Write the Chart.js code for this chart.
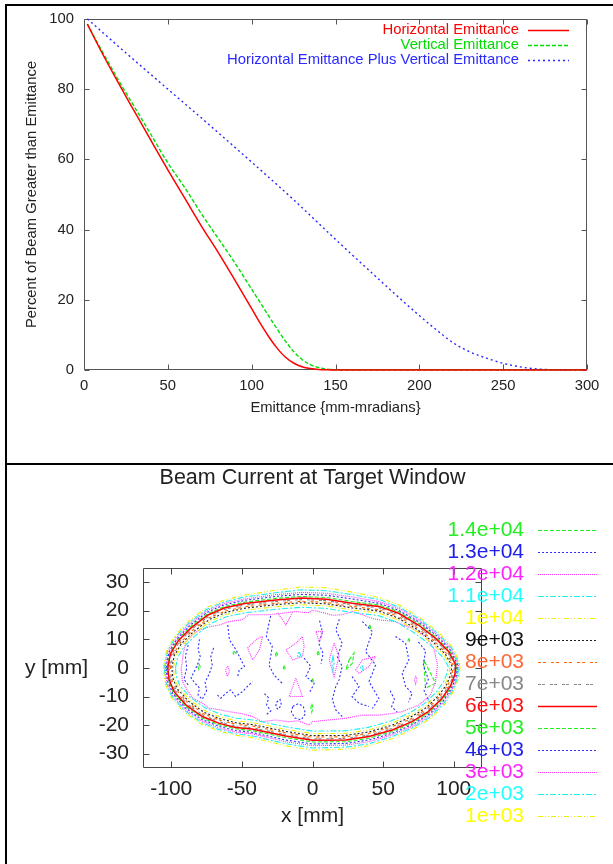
<!DOCTYPE html>
<html><head><meta charset="utf-8">
<script src="https://cdn.jsdelivr.net/npm/chart.js@4/dist/chart.umd.min.js"></script>
<style>
html,body{margin:0;padding:0;background:#fff;width:613px;height:864px;overflow:hidden;position:relative}
canvas{position:absolute;left:0}
#c1{top:0}
#c2{top:465px}
.rule{position:absolute;background:#000}
</style></head><body>
<canvas id="c1" width="613" height="463"></canvas>
<canvas id="c2" width="613" height="399"></canvas>
<div class="rule" style="left:5px;top:4px;width:608px;height:2px"></div>
<div class="rule" style="left:5px;top:4px;width:2px;height:860px"></div>
<div class="rule" style="left:5px;top:463px;width:608px;height:2px"></div>
<script>
// ---------- top chart data ----------
const emitSeriesNames = ['Horizontal Emittance', 'Vertical Emittance', 'Horizontal Emittance Plus Vertical Emittance'];
const horizX = [2, 10, 20, 30, 40, 50, 60, 70, 80, 90, 100, 105, 110, 115, 120, 125, 130, 135, 140, 145, 150, 300];
const horizY = [98.5, 91, 82.2, 73.7, 65.3, 57, 49, 41, 33.5, 25.6, 17.5, 13.4, 9.6, 6.3, 3.7, 2.0, 0.95, 0.42, 0.15, 0.05, 0, 0];
const vertX = [2, 10, 20, 30, 40, 50, 60, 70, 80, 90, 100, 105, 110, 115, 120, 125, 130, 135, 140, 145, 150, 155, 300];
const vertY = [98.5, 91.5, 83, 75, 67, 59, 52, 44.5, 37.5, 30.5, 23, 19.3, 15.5, 11.8, 8.3, 5.3, 3.0, 1.5, 0.7, 0.25, 0.05, 0, 0];
const sumX = [2, 25, 50, 75, 100, 125, 150, 175, 190, 200, 210, 220, 230, 240, 250, 260, 270, 280, 290, 300];
const sumY = [100, 90.3, 80, 69.7, 59.2, 48.5, 37.2, 26.2, 19.7, 15.5, 11.5, 7.8, 5.2, 3.4, 1.9, 0.9, 0.3, 0.08, 0, 0];
const emitXTicks = [0, 50, 100, 150, 200, 250, 300];
const emitYTicks = [0, 20, 40, 60, 80, 100];

// ---------- bottom chart data ----------
const levelLabels = ['1.4e+04','1.3e+04','1.2e+04','1.1e+04','1e+04','9e+03','8e+03','7e+03','6e+03','5e+03','4e+03','3e+03','2e+03','1e+03'];
const posXTicks = [-100, -50, 0, 50, 100];
const posYTicks = [-30, -20, -10, 0, 10, 20, 30];

const ring1e3 = [[-105.6,0],[-103.3,6.2],[-97.4,11.3],[-87.7,16.3],[-75.1,21.1],[-62.6,23.7],[-48.3,25.4],[-26.2,27.2],[-8,28.3],[10.1,28.0],[28.2,26.5],[47.4,24.6],[61.8,21.9],[76.3,17.5],[88.9,12.6],[99.0,7.3],[104.6,1.3],[103.8,-3.1],[100.2,-7.9],[93.7,-12.7],[83.6,-17.7],[71.6,-21.4],[57.1,-24.6],[40.4,-27.2],[23.7,-28.4],[0,-28.8],[-19.2,-27.2],[-43.3,-24.3],[-55.0,-23.5],[-66.8,-22.0],[-79.2,-19.5],[-91.2,-15.3],[-100.4,-10.1],[-104.4,-5.3]];
const ring2e3 = [[-105.0,0],[-102.7,6.0],[-96.9,10.9],[-87.4,15.8],[-74.9,20.5],[-62.5,23.1],[-48.2,24.8],[-26.1,26.3],[-8,27.3],[10.1,27.0],[28.2,25.6],[47.3,23.9],[61.6,21.2],[76.0,17.0],[88.5,12.1],[98.5,7.0],[104.0,1.2],[103.2,-2.9],[99.6,-7.6],[93.2,-12.3],[83.2,-17.2],[71.4,-20.8],[57.0,-23.9],[40.3,-26.5],[23.6,-27.7],[0,-28.0],[-19.1,-26.5],[-43.2,-23.7],[-54.9,-23.0],[-66.6,-21.5],[-79.0,-19.0],[-90.9,-14.8],[-99.9,-9.7],[-103.8,-5.1]];
const ring3e3 = [[-104.4,0],[-102.2,5.7],[-96.4,10.6],[-87.0,15.4],[-74.7,20.0],[-62.4,22.6],[-48.2,24.1],[-26.1,25.6],[-8,26.4],[10.1,26.1],[28.1,24.8],[47.2,23.2],[61.5,20.7],[75.8,16.5],[88.1,11.7],[98.0,6.7],[103.4,1.2],[102.6,-2.8],[99.1,-7.3],[92.8,-11.9],[82.9,-16.7],[71.2,-20.3],[56.9,-23.3],[40.2,-25.8],[23.6,-27.0],[0,-27.2],[-19.1,-25.8],[-43.2,-23.0],[-54.8,-22.4],[-66.5,-21.0],[-78.7,-18.5],[-90.5,-14.4],[-99.4,-9.4],[-103.2,-4.9]];
const ring4e3 = [[-103.7,0],[-101.6,5.5],[-95.9,10.2],[-86.7,14.9],[-74.4,19.5],[-62.2,22.1],[-48.1,23.6],[-26.1,25.0],[-8,25.7],[10,25.4],[28.1,24.1],[47.1,22.6],[61.3,20.1],[75.5,16.0],[87.7,11.3],[97.5,6.3],[102.7,1.1],[101.9,-2.7],[98.6,-7.0],[92.4,-11.6],[82.6,-16.2],[70.9,-19.8],[56.7,-22.8],[40.1,-25.2],[23.6,-26.4],[0,-26.6],[-19.1,-25.2],[-43.1,-22.5],[-54.7,-21.9],[-66.3,-20.4],[-78.5,-18.0],[-90.2,-13.9],[-98.9,-9.0],[-102.6,-4.6]];
const ring5e3 = [[-103.1,0],[-101.1,5.2],[-95.5,9.9],[-86.3,14.5],[-74.2,19.0],[-62.1,21.5],[-48.1,23.0],[-26.0,24.3],[-8,25.0],[10,24.6],[28,23.2],[47.1,22.0],[61.2,19.6],[75.3,15.5],[87.4,10.8],[97.0,6.0],[102.1,1.1],[101.3,-2.6],[98.0,-6.8],[91.9,-11.2],[82.3,-15.8],[70.7,-19.3],[56.6,-22.2],[40.1,-24.6],[23.5,-25.8],[0,-25.9],[-19,-24.4],[-43.1,-21.9],[-54.6,-21.3],[-66.2,-19.9],[-78.2,-17.5],[-89.8,-13.5],[-98.5,-8.7],[-102.1,-4.4]];
const ring6e3 = [[-102.5,0],[-100.5,5],[-95,9.5],[-86,14],[-74,18.5],[-62,21],[-48,22.5],[-26,23.7],[-8,24.4],[10,24],[28,22.6],[47,21.5],[61,19.1],[75,15],[87,10.4],[96.5,5.7],[101.5,1],[100.7,-2.5],[97.5,-6.5],[91.5,-10.8],[82,-15.3],[70.5,-18.8],[56.5,-21.7],[40,-24],[23.5,-25.2],[0,-25.3],[-19,-23.8],[-43,-21.4],[-54.5,-20.8],[-66,-19.4],[-78,-17],[-89.5,-13],[-98,-8.3],[-101.5,-4.2]];
const ring7e3 = [[-101.6,0],[-99.6,4.8],[-94.3,9.1],[-85.5,13.5],[-73.7,18.0],[-61.8,20.5],[-47.9,22.0],[-26.0,23.2],[-8,23.9],[10.0,23.5],[27.9,22.1],[46.9,21.0],[60.8,18.6],[74.6,14.5],[86.4,10.0],[95.7,5.4],[100.6,0.9],[99.8,-2.4],[96.7,-6.2],[90.8,-10.4],[81.5,-14.8],[70.2,-18.3],[56.3,-21.2],[39.9,-23.5],[23.5,-24.7],[0,-24.8],[-19.0,-23.3],[-42.9,-20.9],[-54.4,-20.3],[-65.8,-18.9],[-77.6,-16.5],[-89.0,-12.5],[-97.3,-7.9],[-100.6,-4.0]];
const ring8e3 = [[-100.6,0],[-98.8,4.5],[-93.6,8.8],[-85.0,13.1],[-73.3,17.5],[-61.6,19.9],[-47.8,21.4],[-25.9,22.6],[-8,23.3],[9.9,22.9],[27.9,21.5],[46.8,20.4],[60.5,18.0],[74.2,14.0],[85.9,9.5],[95.0,5.0],[99.6,0.9],[98.8,-2.3],[95.9,-5.9],[90.2,-10.0],[81.0,-14.3],[69.8,-17.8],[56.1,-20.6],[39.8,-22.9],[23.4,-24.1],[0,-24.2],[-18.9,-22.7],[-42.8,-20.3],[-54.2,-19.7],[-65.5,-18.3],[-77.3,-16.0],[-88.5,-12.1],[-96.6,-7.6],[-99.8,-3.8]];
const ring9e3 = [[-99.6,0],[-97.9,4.3],[-92.9,8.4],[-84.4,12.6],[-73.0,16.9],[-61.4,19.4],[-47.7,20.9],[-25.9,22.1],[-8,22.8],[9.9,22.4],[27.8,21.0],[46.7,19.9],[60.3,17.5],[73.9,13.5],[85.3,9.1],[94.2,4.7],[98.7,0.8],[97.9,-2.2],[95.1,-5.7],[89.5,-9.6],[80.6,-13.9],[69.5,-17.2],[55.9,-20.1],[39.7,-22.4],[23.4,-23.6],[0,-23.7],[-18.9,-22.2],[-42.7,-19.8],[-54.1,-19.2],[-65.3,-17.8],[-76.9,-15.5],[-87.9,-11.6],[-95.9,-7.2],[-98.9,-3.5]];
const ring1e4 = [[-98.5,0],[-96.9,4.0],[-92.0,8.0],[-83.8,12.0],[-72.6,16.3],[-61.2,18.7],[-47.6,20.2],[-25.8,21.4],[-8,22.1],[9.9,21.7],[27.8,20.3],[46.5,19.2],[60.0,16.9],[73.4,12.9],[84.6,8.6],[93.3,4.3],[97.5,0.8],[96.7,-2.0],[94.1,-5.3],[88.7,-9.2],[80.0,-13.3],[69.1,-16.6],[55.7,-19.4],[39.5,-21.7],[23.3,-22.9],[0,-23.0],[-18.8,-21.5],[-42.6,-19.1],[-53.9,-18.5],[-65.0,-17.2],[-76.5,-14.9],[-87.3,-11.1],[-95.0,-6.8],[-97.9,-3.3]];
const ring1p1e4 = [[-97.0,0],[-95.5,3.6],[-90.9,7.4],[-83.0,11.3],[-72.1,15.5],[-60.9,17.9],[-47.4,19.3],[-25.7,20.5],[-8,21.2],[9.8,20.8],[27.7,19.4],[46.4,18.3],[59.6,16.0],[72.8,12.0],[83.7,7.9],[92.1,3.8],[96.0,0.7],[95.2,-1.9],[92.8,-4.9],[87.6,-8.5],[79.2,-12.5],[68.6,-15.8],[55.4,-18.6],[39.4,-20.8],[23.2,-22.0],[0,-22.1],[-18.7,-20.6],[-42.4,-18.2],[-53.7,-17.6],[-64.6,-16.3],[-75.9,-14.0],[-86.5,-10.3],[-93.9,-6.2],[-96.5,-2.9]];
const ring1p2e4 = [[-93,-0.5],[-91.5,5],[-89.5,9.2],[-84,12],[-80,13.3],[-72,14.5],[-66,15],[-59,16.2],[-50,16.8],[-45,18.6],[-31,18.6],[-21.4,19.1],[-12,19.7],[-3,19.3],[0,20.2],[9.4,19.1],[14,18.4],[21.2,18.6],[28.2,19.7],[35.3,18.6],[41,17.5],[47,16.8],[58.8,16.2],[64,15],[70.6,13.9],[80,11],[85.9,6.9],[88.5,1],[87.1,-4.8],[83.5,-9.5],[75.3,-13],[63.5,-15.3],[55,-16],[47,-16.5],[35.3,-16.5],[23.5,-17.6],[11.8,-18.2],[0,-18.8],[-2.6,-20],[-10,-18.5],[-16.7,-18.8],[-26.1,-18.2],[-35.5,-18.8],[-42.6,-17],[-50,-16],[-59,-15.3],[-66,-14.6],[-73.2,-14.1],[-78,-12.3],[-84.9,-10.6],[-89,-7.5],[-92,-4.8]];

const blobs1p3e4 = [
  [[-80,10],[-81,6.5],[-79.5,4],[-81.5,1],[-84,-1.5],[-86,-3.5],[-83,-5.5],[-80,-7],[-81,-9.5],[-78,-11],[-75,-8],[-76,-5],[-73,-2],[-71,1],[-72,4],[-70,7]],
  [[-88,8],[-90,4],[-89,0],[-91,-4],[-88,-6]],
  [[-60,15],[-58.8,9.8],[-54.1,6.3],[-50.6,2.8],[-48.2,0.5],[-51.8,-0.7],[-53,-3]],
  [[-67.3,-9.5],[-64.9,-10.6],[-61.4,-8.9],[-57.9,-7.7],[-54.4,-10],[-49.6,-8.3],[-46.1,-6.5],[-42.6,-4.8]],
  [[-29.6,18.2],[-31.3,14.5],[-32.7,11],[-28.5,7.5],[-29.6,4],[-30.8,1],[-27.3,-2.5],[-21.4,-5.4]],
  [[-34,-9],[-31,-10.5],[-32.5,-13],[-29.5,-15],[-33,-16.5]],
  [[-25.5,-12],[-23,-11],[-22,-13],[-24.5,-14.5],[-26,-13.5],[-25.5,-12]],
  [[-14,-13.5],[-10,-12.5],[-6.5,-13.5],[-5,-16],[-8,-18.2],[-12.5,-17.5],[-15,-15.5],[-14,-13.5]],
  [[-5.9,3.4],[-1.2,0.5],[-4.7,-3],[1.2,-5.4],[-2.4,-8.9]],
  [[5,16.5],[7,12.5],[4.5,8.5],[7.5,5],[6,1.5]],
  [[19,17],[16.5,13.3],[21,8.6],[17.6,4],[21,0.5],[18.8,-4.2],[16.5,-6.5],[14,-11],[16.5,-14.7],[21,-17]],
  [[28,-3],[33,-6.5],[28,-10],[33,-12.4],[40,-13.5]],
  [[35.3,16.2],[42.4,12.7],[37.6,5.7],[44.7,1],[40,-4.8],[47,-10.7],[42.4,-14.2]],
  [[58.8,11],[65.9,8.6],[68.2,2.8],[63.5,-1.9],[65.9,-6.5],[70.6,-8.9],[68,-12]],
  [[55,-8],[58,-11],[56,-13.5],[60,-15.5]],
  [[75,9],[80,6],[78.5,1],[82,-4],[79,-8],[83,-12]]
];
const blobs1p2e4 = [
  [[-46,7],[-39,10.3],[-35.3,11],[-37.6,6.3],[-42.4,2.8],[-46,7]],
  [[-60,0.7],[-58.8,-1.1],[-60.2,-3],[-61.6,-0.9],[-60,0.7]],
  [[-18.8,6.3],[-11.8,8.6],[-7.1,11],[-5.9,7.5],[-7.1,4],[-14.1,2.8],[-18.8,6.3]],
  [[2.4,12.7],[7.1,12.7],[4.7,9.2],[2.4,12.7]],
  [[-11.8,-3.6],[-16.5,-10],[-7.1,-10],[-11.8,-3.6]],
  [[15.3,8.6],[18.8,4],[15.3,-3],[11.8,2.8],[15.3,8.6]],
  [[30.6,-0.7],[35.3,2.8],[44.7,4],[40,0.5],[32.9,-1.9],[30.6,-0.7]],
  [[-24.7,19.3],[-18.8,15],[-14.1,19.5]],
  [[73,-2.8],[74,-4.2],[73,-5.6],[72.2,-4.2],[73,-2.8]]
];
const blobs1p4e4 = [
  [[-80.5,1.5],[-79.5,0.5],[-80.5,-0.5],[-81.2,0.5],[-80.5,1.5]],
  [[-55.5,5.8],[-54,5.2],[-55.5,4.5],[-56.3,5.2],[-55.5,5.8]],
  [[-25.5,5.6],[-24.8,4.7],[-25.5,3.8],[-26.2,4.7],[-25.5,5.6]],
  [[-20,0.8],[-19.3,0],[-20,-0.8],[-20.7,0],[-20,0.8]],
  [[4,5.8],[4.8,5],[4,4.2],[3.3,5],[4,5.8]],
  [[0,-3.8],[0.6,-4.5],[0,-5.2],[-0.6,-4.5],[0,-3.8]],
  [[-0.5,-12.5],[0.3,-14],[-0.5,-15.5],[-1.2,-14],[-0.5,-12.5]],
  [[25.9,2.8],[29.4,5.2],[28.2,1.6],[23.5,-0.7],[25.9,2.8]],
  [[78.8,2.8],[80,-7.1],[87.1,-5.4],[78.8,2.8]],
  [[40.5,15],[41.2,14.2],[40.5,13.4],[39.8,14.2],[40.5,15]],
  [[68.2,10.3],[68.8,9.6],[68.2,8.9],[67.6,9.6],[68.2,10.3]]
];
const blobs1p1e4 = [
  [[-9.6,5.5],[-8.2,4.5],[-9.6,3.5],[-11,4.5],[-9.6,5.5]],
  [[14.5,4.5],[15.3,1.8],[14.5,-1],[13.7,1.8],[14.5,4.5]],
  [[35,0.9],[36,0],[35,-0.9],[34,0],[35,0.9]]
];

// ---------- styles ----------
const FONT = "'Liberation Sans', Arial, Helvetica, sans-serif";
const levelColors = ['#22ee22','#3030ff','#ff33ff','#22eeee','#eeee00','#222222','#ff6600','#888888','#ff0000','#22ee22','#3030ff','#ff33ff','#22eeee','#eeee00'];
const levelTextColors = ['#22ee22','#2020ee','#ff22ff','#22ffff','#ffff00','#111111','#ff6633','#888888','#ff1111','#22ee22','#2020ee','#ff22ff','#22ffff','#ffff00'];
const levelDash = [[4,2],[2,2],[1,1],[6,2,2,2],[5,2,1,2,1,2],[2,2],[3,2,3,5],[3,1,3,5],[],[4,2],[2,2],[1,1],[6,2,2,2],[5,2,1,2,1,2]];

// ---------- plugins ----------
const gnuFrame = {
  id: 'gnuFrame',
  beforeDatasetsDraw(chart, args, o) {
    const {ctx, chartArea: a} = chart;
    const xs = chart.scales.x, ys = chart.scales.y;
    const L = o.len;
    const l = Math.round(a.left) + 0.5, r = Math.round(a.right) - 0.5, t = Math.round(a.top) + 0.5, b = Math.round(a.bottom) - 0.5;
    ctx.save();
    ctx.strokeStyle = o.color; ctx.lineWidth = 1; ctx.setLineDash([]);
    ctx.beginPath();
    xs.ticks.forEach(tk => { const p = Math.round(xs.getPixelForValue(tk.value)) + 0.5; ctx.moveTo(p, b); ctx.lineTo(p, b - L); ctx.moveTo(p, t); ctx.lineTo(p, t + L); });
    ys.ticks.forEach(tk => { const p = Math.round(ys.getPixelForValue(tk.value)) + 0.5; ctx.moveTo(l, p); ctx.lineTo(l + L, p); ctx.moveTo(r, p); ctx.lineTo(r - L, p); });
    ctx.rect(l, t, r - l, b - t);
    ctx.stroke();
    ctx.restore();
  }
};
const gnuKey = {
  id: 'gnuKey',
  afterDraw(chart, args, o) {
    const ctx = chart.ctx;
    ctx.save();
    ctx.font = o.font; ctx.textBaseline = 'middle';
    o.items.forEach((it, i) => {
      const y = o.y0 + i * o.dy;
      ctx.textAlign = 'right';
      ctx.fillStyle = it.textColor; ctx.fillText(it.label, o.textRight, y);
      ctx.strokeStyle = it.color; ctx.lineWidth = it.width; ctx.setLineDash(it.dash);
      const yy = Math.round(y) + 0.5;
      ctx.beginPath(); ctx.moveTo(o.x1, yy); ctx.lineTo(o.x2, yy); ctx.stroke();
    });
    (o.texts || []).forEach(tx => {
      ctx.setLineDash([]);
      ctx.font = tx.font; ctx.textAlign = tx.align; ctx.fillStyle = tx.color;
      ctx.fillText(tx.text, tx.x, tx.y);
    });
    ctx.restore();
  }
};

// ---------- top chart ----------
function xy(xs, ys) { return xs.map((x, i) => ({x: x, y: ys[i]})); }
const topColors = ['#ff0000', '#00dd00', '#2a2aff'];
const topDash = [[], [4, 2], [2, 3]];
new Chart(document.getElementById('c1'), {
  type: 'line',
  data: { datasets: [
    {label: emitSeriesNames[0], data: xy(horizX, horizY), borderColor: topColors[0], borderWidth: 1.5, borderDash: topDash[0], pointRadius: 0, cubicInterpolationMode: 'monotone', fill: false, clip: 3},
    {label: emitSeriesNames[1], data: xy(vertX, vertY), borderColor: topColors[1], borderWidth: 1.4, borderDash: topDash[1], pointRadius: 0, cubicInterpolationMode: 'monotone', fill: false, clip: 3},
    {label: emitSeriesNames[2], data: xy(sumX, sumY), borderColor: topColors[2], borderWidth: 1.4, borderDash: topDash[2], pointRadius: 0, cubicInterpolationMode: 'monotone', fill: false, clip: 3}
  ]},
  options: {
    responsive: false, animation: false, events: [], devicePixelRatio: 1,
    layout: {padding: {left: 0, top: 17, right: 26, bottom: 0}},
    plugins: {
      legend: {display: false}, tooltip: {enabled: false}, title: {display: false},
      gnuFrame: {color: '#555', len: 5},
      gnuKey: {
        font: '14.8px ' + FONT, y0: 29.5, dy: 15, textRight: 519, x1: 528, x2: 569,
        items: emitSeriesNames.map((n, i) => ({label: n, color: topColors[i], textColor: topColors[i], width: 1.5, dash: topDash[i]}))
      }
    },
    scales: {
      x: {
        type: 'linear', min: 0, max: 300,
        afterBuildTicks: s => { s.ticks = emitXTicks.map(v => ({value: v})); },
        afterFit: s => { s.height = 93; },
        grid: {display: false, drawTicks: false}, border: {display: false},
        ticks: {color: '#222', font: {family: FONT, size: 14.8}, padding: 7, maxRotation: 0, autoSkip: false},
        title: {display: true, text: 'Emittance {mm-mradians}', color: '#222', font: {family: FONT, size: 14.8}, padding: {top: 0, bottom: 46}}
      },
      y: {
        type: 'linear', min: 0, max: 100,
        afterBuildTicks: s => { s.ticks = emitYTicks.map(v => ({value: v})); },
        afterFit: s => { s.width = 84; },
        grid: {display: false, drawTicks: false}, border: {display: false},
        ticks: {color: '#222', font: {family: FONT, size: 14.8}, padding: 10},
        title: {display: true, text: 'Percent of Beam Greater than Emittance', color: '#222', font: {family: FONT, size: 14.8}, padding: {top: 23, bottom: 0}}
      }
    }
  },
  plugins: [gnuFrame, gnuKey]
});

// ---------- bottom chart ----------
const contourSets = [
  {level: 8, lines: [ring6e3], width: 1.5},
  {level: 13, lines: [ring1e3]}, {level: 12, lines: [ring2e3]}, {level: 11, lines: [ring3e3]},
  {level: 10, lines: [ring4e3]}, {level: 9, lines: [ring5e3]}, {level: 7, lines: [ring7e3]},
  {level: 6, lines: [ring8e3]}, {level: 5, lines: [ring9e3]}, {level: 4, lines: [ring1e4]},
  {level: 3, lines: [ring1p1e4].concat(blobs1p1e4)}, {level: 2, lines: [ring1p2e4].concat(blobs1p2e4)},
  {level: 1, lines: blobs1p3e4}, {level: 0, lines: blobs1p4e4}
];
const closedRings = [ring1e3, ring2e3, ring3e3, ring4e3, ring5e3, ring6e3, ring7e3, ring8e3, ring9e3, ring1e4, ring1p1e4, ring1p2e4];
const contourDatasets = [];
contourSets.forEach(set => {
  set.lines.forEach(line => {
    const pts = line.map(p => ({x: p[0], y: p[1]}));
    if (closedRings.includes(line)) pts.push({x: line[0][0], y: line[0][1]});
    contourDatasets.push({
      label: levelLabels[set.level], data: pts, showLine: true, pointRadius: 0,
      borderColor: levelColors[set.level], borderWidth: set.width || 1.1, borderDash: levelDash[set.level], tension: 0, fill: false
    });
  });
});
new Chart(document.getElementById('c2'), {
  type: 'scatter',
  data: {datasets: contourDatasets},
  options: {
    responsive: false, animation: false, events: [], devicePixelRatio: 1,
    layout: {padding: {left: 0, top: 0, right: 131, bottom: 0}},
    plugins: {
      legend: {display: false}, tooltip: {enabled: false},
      title: {display: true, text: 'Beam Current at Target Window', fullSize: false, color: '#222', font: {family: FONT, size: 21.5, weight: 'normal'}, padding: {top: 0, bottom: 77}},
      gnuFrame: {color: '#444', len: 6},
      gnuKey: {
        font: '21px ' + FONT, y0: 65.3, dy: 21.97, textRight: 524, x1: 538, x2: 597,
        items: levelLabels.map((n, i) => ({label: n, color: levelColors[i], textColor: levelTextColors[i], width: i === 8 ? 1.5 : 1, dash: levelDash[i]})),
        texts: [{text: 'y [mm]', x: 25, y: 203, align: 'left', color: '#222', font: '21px ' + FONT}]
      }
    },
    scales: {
      x: {
        type: 'linear', min: -120, max: 120,
        afterBuildTicks: s => { s.ticks = posXTicks.map(v => ({value: v})); },
        afterFit: s => { s.height = 96; },
        grid: {display: false, drawTicks: false}, border: {display: false},
        ticks: {color: '#222', font: {family: FONT, size: 21}, padding: 9, maxRotation: 0, autoSkip: false},
        title: {display: true, text: 'x [mm]', color: '#222', font: {family: FONT, size: 21}, padding: {top: 0, bottom: 35}}
      },
      y: {
        type: 'linear', min: -35, max: 35,
        afterBuildTicks: s => { s.ticks = posYTicks.map(v => ({value: v})); },
        afterFit: s => { s.width = 143; },
        grid: {display: false, drawTicks: false}, border: {display: false},
        ticks: {color: '#222', font: {family: FONT, size: 21}, padding: 14},
        title: {display: false}
      }
    }
  },
  plugins: [gnuFrame, gnuKey]
});
</script>
</body></html>
